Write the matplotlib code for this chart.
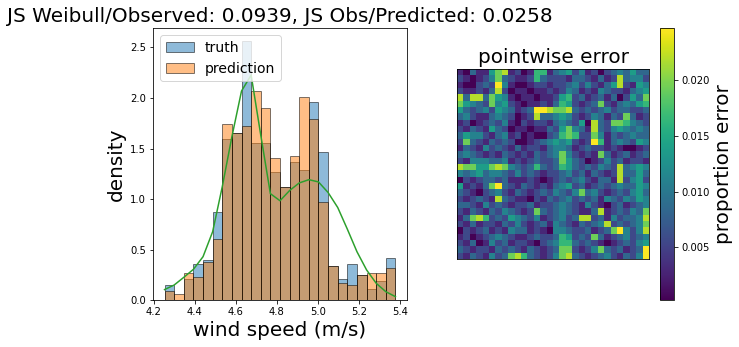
import numpy as np
import matplotlib
matplotlib.use("Agg")
import matplotlib.pyplot as plt

# histogram (density per bin)
bin_lo, bin_hi, n_bins = 4.2536, 5.378, 24
truth = [0.148, 0.0, 0.207, 0.359, 0.395, 0.87, 1.591, 1.65, 2.563, 1.551, 1.551, 1.268,
         1.117, 1.367, 1.285, 1.963, 1.462, 0.336, 0.207, 0.359, 0.25, 0.109, 0.191, 0.415]
prediction = [0.092, 0.063, 0.27, 0.227, 0.375, 0.603, 1.742, 1.65, 1.723, 2.068, 1.897, 1.403,
              1.117, 1.423, 2.006, 1.795, 0.968, 0.336, 0.168, 0.148, 0.25, 0.27, 0.27, 0.316]
# green curve, sampled at the bin edges
curve = [0.106, 0.151, 0.227, 0.306, 0.431, 0.678, 1.123, 1.617, 2.068, 2.226, 1.633, 1.054,
         0.984, 1.085, 1.16, 1.192, 1.17, 1.065, 0.917, 0.703, 0.48, 0.30, 0.168, 0.085, 0.036]

# pointwise error grid, read as levels 0 (dark purple) .. 9 (yellow)
err_rows = [
    "103115781201661345241202343533",
    "210124732112632221332131283442",
    "100232941001221223424213582154",
    "211213820110112124312143221345",
    "838837541011011256231231302537",
    "754327452101121365212372134356",
    "532342543123998778323234233223",
    "342113432012833454212431327312",
    "120123241021221343250832776432",
    "213215320110113257431832454343",
    "354421341201002367622741323433",
    "273213232001234545212961343254",
    "132142321312213443123221210012",
    "343212132121323474212173123123",
    "214443341212322375320124231221",
    "877557874323632365323243283454",
    "434534432423212234231321283353",
    "021233231112101232342133182452",
    "512137932132121345231232343354",
    "321023421321232432473421232453",
    "212321832110213234232314324354",
    "332142321223122343214210231234",
    "213213243212732343211381232437",
    "137862325432412342388231423348",
    "213122132421231432132348232347",
    "021231214331210443223123794248",
    "120123432112322365232731234234",
    "213014231221023466323210123245",
    "321221323213212377212473231239",
    "213214237863212478321234213249",
]
err_base, err_step = 0.0003, 0.0027

edges = np.linspace(bin_lo, bin_hi, n_bins + 1)
centers = (edges[:-1] + edges[1:]) / 2
levels = np.array([[int(ch) for ch in row] for row in err_rows], dtype=float)
errors = err_base + levels * err_step

W, H = 739, 347
fig = plt.figure(figsize=(W / 72, H / 72), dpi=72)

ax1 = fig.add_axes([153 / W, 1 - 300.3 / H, 254 / W, 272.3 / H])
ax1.hist(centers, bins=edges, weights=truth, alpha=0.5, edgecolor='black', label='truth')
ax1.hist(centers, bins=edges, weights=prediction, alpha=0.5, edgecolor='black', label='prediction')
ax1.plot(edges, curve, color='tab:green')
ax1.set_xlabel('wind speed (m/s)', fontsize=20)
ax1.set_ylabel('density', fontsize=20)
ax1.set_title('JS Weibull/Observed: 0.0939, JS Obs/Predicted: 0.0258', fontsize=20)
ax1.set_xticks([4.2, 4.4, 4.6, 4.8, 5.0, 5.2, 5.4])
ax1.legend(loc='upper left', fontsize=14)

ax2 = fig.add_axes([457.3 / W, 1 - 259.3 / H, 191.5 / W, 190 / H])
im = ax2.imshow(errors, cmap='viridis', aspect='auto', interpolation='nearest')
ax2.set_xticks([])
ax2.set_yticks([])
ax2.set_title('pointwise error', fontsize=20)

cax = fig.add_axes([660 / W, 1 - 300 / H, 14 / W, 271.7 / H])
cb = fig.colorbar(im, cax=cax)
cb.set_label('proportion error', fontsize=20)

fig.savefig('out.png', dpi=72)
